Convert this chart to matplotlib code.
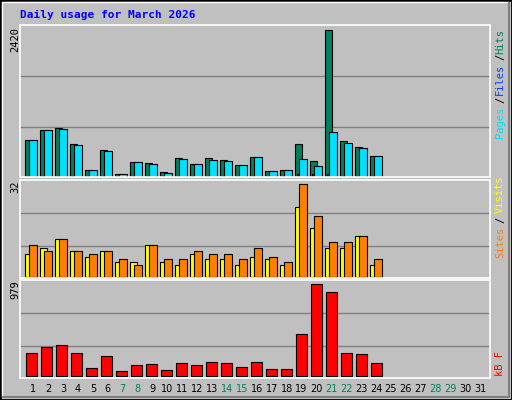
import matplotlib
matplotlib.use("Agg")
import matplotlib.pyplot as plt
from matplotlib.patches import Rectangle
import numpy as np

W, H = 512, 400
days = list(range(1, 32))
weekend = [7, 8, 14, 15, 21, 22, 28, 29]

# values for days 1..24 (rest of month has no data yet)
hits = [614, 779, 812, 549, 121, 450, 55, 252, 236, 88, 318, 219, 318, 285, 203, 335, 104, 121, 549, 269, 2420, 598, 499, 351]
files = [10, 10, 10, 10, 10, 10, 10, 10, 10, 10, 10, 10, 10, 10, 10, 10, 10, 10, 50, 40, 40, 10, 10, 10]
pages = [614, 779, 796, 532, 121, 433, 55, 252, 219, 71, 302, 219, 285, 269, 203, 335, 104, 121, 302, 187, 746, 565, 483, 351]
visits = [8, 10, 13, 9, 7, 9, 5, 5, 11, 5, 4, 8, 6, 6, 4, 7, 6, 4, 24, 17, 10, 10, 14, 4]
sites = [11, 9, 13, 9, 8, 9, 6, 4, 11, 6, 6, 9, 8, 8, 6, 10, 7, 5, 32, 21, 12, 12, 14, 6]
kbytes = [239, 304, 325, 239, 79, 207, 46, 111, 121, 57, 132, 111, 143, 132, 89, 143, 68, 68, 443, 979, 893, 239, 229, 132]

C_HITS, C_FILES, C_PAGES = "#00805c", "#0040ff", "#00e0ff"
C_VISITS, C_SITES, C_KB = "#ffff00", "#ff8000", "#ff0000"
BG = "#c0c0c0"
MONO = "DejaVu Sans Mono"

fig = plt.figure(figsize=(W / 100, H / 100), dpi=100)
fig.patch.set_facecolor(BG)


def fx(x):
    return x / W


def fy(y):
    return 1 - y / H


# outer frame with bevel
fig.patches.append(Rectangle((0, 0), 1, 1, transform=fig.transFigure, fill=False, ec="black", lw=2))
fig.lines.append(plt.Line2D([fx(2), fx(2), fx(508)], [fy(396), fy(2), fy(2)], transform=fig.transFigure, color="white", lw=1))
fig.lines.append(plt.Line2D([fx(3), fx(509), fx(509)], [fy(397), fy(397), fy(3)], transform=fig.transFigure, color="#808080", lw=1.5))

x0 = np.array(days[:len(hits)])
xlim = (0.113, 31.45)


def panel(top, bottom, ylim, grid):
    ax = fig.add_axes([fx(20), fy(bottom), fx(490) - fx(20), (bottom - top) / H])
    ax.set_facecolor(BG)
    ax.set_xlim(*xlim)
    ax.set_ylim(*ylim)
    for g in grid:
        ax.axhline(g, color="#808080", lw=1, zorder=0)
    ax.set_xticks([])
    ax.set_yticks([])
    for s in ax.spines.values():
        s.set_color("white")
        s.set_linewidth(1.2)
    return ax


bar_kw = dict(align="edge", edgecolor="black", linewidth=0.8)

ax1 = panel(25, 177, (-2, 2502), [829, 1658])
ax1.bar(x0 - 0.533, hits, 0.45, color=C_HITS, **bar_kw)
ax1.bar(x0 - 0.44, files, 0.35, color=C_FILES, **bar_kw)
ax1.bar(x0 - 0.27, pages, 0.49, color=C_PAGES, **bar_kw)

ax2 = panel(180, 278.3, (-0.55, 33.5), [10.5, 22])
ax2.bar(x0 - 0.533, visits, 0.45, color=C_VISITS, **bar_kw)
ax2.bar(x0 - 0.27, sites, 0.49, color=C_SITES, **bar_kw)

ax3 = panel(280.3, 377.7, (-21, 1022), [315, 669])
ax3.bar(x0 - 0.467, kbytes, 0.69, color=C_KB, **bar_kw)

# title
fig.text(fx(20), fy(15), "Daily usage for March 2026", color="#0000ff", fontsize=8,
         fontweight="bold", family=MONO, va="center")

# left max labels
for label, y in [("2420", 40), ("32", 187), ("979", 290)]:
    fig.text(fx(15), fy(y), label, rotation=90, fontsize=7.5, family=MONO, ha="center", va="center")

# right legends
legend = [("Pages", C_PAGES, 122), ("/", "black", 100), ("Files", C_FILES, 79), ("/", "black", 57),
          ("Hits", C_HITS, 41), ("Sites", C_SITES, 242), ("/", "black", 220), ("Visits", C_VISITS, 194),
          ("kB F", C_KB, 364)]
for label, col, y in legend:
    fig.text(fx(500), fy(y), label, rotation=90, fontsize=7.5, family=MONO, color=col, ha="center", va="center")

# day labels
for d in days:
    xp = 33.3 + (d - 1) * 14.9
    fig.text(fx(xp), fy(389), str(d), fontsize=7, family="DejaVu Sans",
             color=C_HITS if d in weekend else "black", ha="center", va="center")

fig.savefig("out.png", dpi=100, facecolor=BG)
